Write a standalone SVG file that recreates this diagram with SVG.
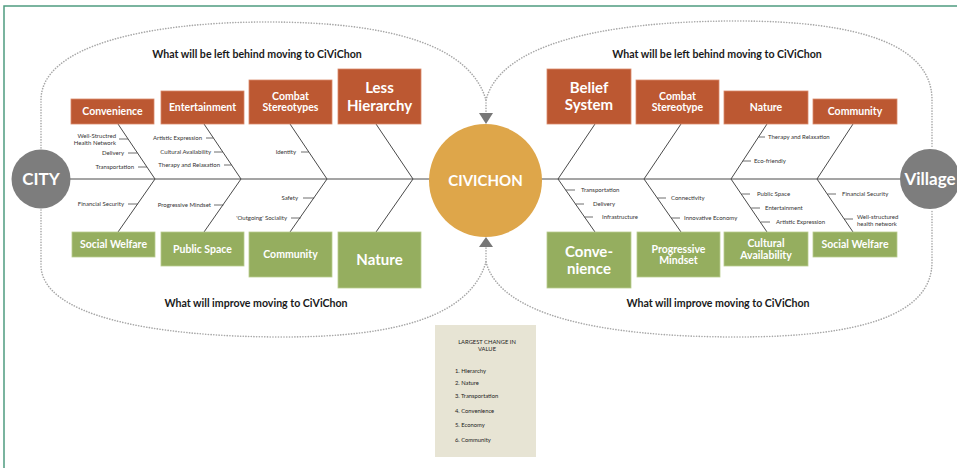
<svg xmlns="http://www.w3.org/2000/svg" width="957" height="468" viewBox="0 0 957 468">
<style>
.frame{fill:none;stroke:#4f9c80;stroke-width:1.5}
.dot{fill:none;stroke:#a8a8a8;stroke-width:1.6;stroke-dasharray:0.1 2.6;stroke-linecap:round}
.bone{fill:none;stroke:#4a4a4a;stroke-width:1}
.tick{fill:none;stroke:#4a4a4a;stroke-width:0.8}
.org{fill:#bc5832;stroke:#d98a6a;stroke-width:0.8}
.grn{fill:#95ae5f;stroke:#b9cc8e;stroke-width:0.8}
.bt{font-family:Lato,"Liberation Sans",sans-serif;font-weight:700;fill:#fff;text-anchor:middle}
.s{font-size:10.5px}
.l{font-size:15px}
.title{font-family:Lato,"Liberation Sans",sans-serif;font-weight:700;font-size:10.6px;fill:#1a1a1a;text-anchor:middle}
.sub{font-family:Lato,"Liberation Sans",sans-serif;font-size:6px;fill:#333}
.r{text-anchor:end}
.leg{font-family:Lato,"Liberation Sans",sans-serif;font-size:5.8px;fill:#222}
.circ{font-family:Lato,"Liberation Sans",sans-serif;font-weight:700;fill:#fff;text-anchor:middle}
</style>
<rect width="957" height="468" fill="#fff"/>
<path class="frame" d="M4,468 L4,6 L957,6"/>

<g id="connectors">
  <path class="dot" d="M41,148 L41,100 C41,45 150,22 267,22 C390,22 470,45 486,100 L486,112"/>
  <path class="dot" d="M486,100 C500,45 600,21 737,21 C860,21 932,45 932,100 L932,148"/>
  <path class="dot" d="M41,210 L41,265 C41,315 150,337 283,337 C400,337 470,315 486,262 L486,248"/>
  <path class="dot" d="M486,262 C500,315 600,337 737,337 C860,337 932,315 932,262 L932,210"/>
  <polygon points="479,113 493,113 486,124" fill="#777"/>
  <polygon points="486,237 479,247 493,247" fill="#777"/>
  <line class="bone" x1="70" y1="179" x2="430" y2="179"/>
  <line class="bone" x1="541" y1="179" x2="901" y2="179"/>
  <polyline class="bone" points="118,124 155,179 118,232"/>
  <polyline class="bone" points="204,124 241,179 204,232"/>
  <polyline class="bone" points="290,124 327,179 290,232"/>
  <polyline class="bone" points="376,124 413,179 376,232"/>
  <polyline class="bone" points="595,124 558,179 595,232"/>
  <polyline class="bone" points="681,124 644,179 681,232"/>
  <polyline class="bone" points="767,124 731,179 767,232"/>
  <polyline class="bone" points="853,124 817,179 853,232"/>
  <line class="tick" x1="119" y1="139" x2="128" y2="139"/>
  <line class="tick" x1="128" y1="153" x2="137.5" y2="153"/>
  <line class="tick" x1="138" y1="167" x2="147" y2="167"/>
  <line class="tick" x1="206" y1="138" x2="213.4" y2="138"/>
  <line class="tick" x1="214" y1="152" x2="222.8" y2="152"/>
  <line class="tick" x1="224" y1="165" x2="231.6" y2="165"/>
  <line class="tick" x1="301" y1="152" x2="308.8" y2="152"/>
  <line class="tick" x1="128" y1="204" x2="138" y2="204"/>
  <line class="tick" x1="214" y1="205" x2="223.5" y2="205"/>
  <line class="tick" x1="303" y1="198" x2="314.2" y2="198"/>
  <line class="tick" x1="291" y1="218" x2="300.8" y2="218"/>
  <line class="tick" x1="758.5" y1="137" x2="765" y2="137"/>
  <line class="tick" x1="742.8" y1="161" x2="751" y2="161"/>
  <line class="tick" x1="565.7" y1="190" x2="575" y2="190"/>
  <line class="tick" x1="575.5" y1="204" x2="584" y2="204"/>
  <line class="tick" x1="584.5" y1="217" x2="593" y2="217"/>
  <line class="tick" x1="657.3" y1="198" x2="666" y2="198"/>
  <line class="tick" x1="671.2" y1="218" x2="680" y2="218"/>
  <line class="tick" x1="741.5" y1="194" x2="750" y2="194"/>
  <line class="tick" x1="751.2" y1="208" x2="760" y2="208"/>
  <line class="tick" x1="761" y1="222" x2="770" y2="222"/>
  <line class="tick" x1="827.5" y1="194" x2="836" y2="194"/>
  <line class="tick" x1="844.2" y1="219" x2="853" y2="219"/>
</g>

<g id="titles">
  <text class="title" x="257" y="58">What will be left behind moving to CiViChon</text>
  <text class="title" x="717" y="58">What will be left behind moving to CiViChon</text>
  <text class="title" x="256" y="306.5">What will improve moving to CiViChon</text>
  <text class="title" x="718" y="306.5">What will improve moving to CiViChon</text>
</g>

<g id="city">
  <circle cx="41" cy="179" r="29.5" fill="#7d7d7d"/>
  <text class="circ" x="41" y="185" font-size="17">CITY</text>
</g>
<g id="village">
  <circle cx="930" cy="179" r="30" fill="#7d7d7d"/>
  <text class="circ" x="930" y="185" font-size="17">Village</text>
</g>
<g id="civichon">
  <circle cx="485.5" cy="180.5" r="56.5" fill="#dea64a"/>
  <text class="circ" x="485.5" y="186" font-size="15">CIVICHON</text>
</g>

<g id="l-convenience"><rect class="org" x="71" y="99" width="83" height="25"/><text class="bt s" x="112.5" y="115">Convenience</text></g>
<g id="l-entertainment"><rect class="org" x="161" y="91" width="83" height="33"/><text class="bt s" x="202.5" y="111">Entertainment</text></g>
<g id="l-combat"><rect class="org" x="249" y="80" width="83" height="44"/><text class="bt s" x="290.5" y="99.5">Combat</text><text class="bt s" x="290.5" y="111">Stereotypes</text></g>
<g id="l-hierarchy"><rect class="org" x="338" y="69" width="83" height="55"/><text class="bt l" x="379.5" y="93">Less</text><text class="bt l" x="379.5" y="110.5">Hierarchy</text></g>
<g id="l-welfare"><rect class="grn" x="72" y="232" width="83" height="25"/><text class="bt s" x="113.5" y="248">Social Welfare</text></g>
<g id="l-public"><rect class="grn" x="161" y="232" width="83" height="34"/><text class="bt s" x="202.5" y="252.5">Public Space</text></g>
<g id="l-community"><rect class="grn" x="249" y="232" width="83" height="45"/><text class="bt s" x="290.5" y="258">Community</text></g>
<g id="l-nature"><rect class="grn" x="338" y="232" width="83" height="56"/><text class="bt l" x="379.5" y="265">Nature</text></g>
<g id="r-belief"><rect class="org" x="547" y="69" width="84" height="55"/><text class="bt l" x="589" y="92.5">Belief</text><text class="bt l" x="589" y="110">System</text></g>
<g id="r-combat"><rect class="org" x="636" y="80" width="83" height="44"/><text class="bt s" x="677.5" y="99.5">Combat</text><text class="bt s" x="677.5" y="111">Stereotype</text></g>
<g id="r-nature"><rect class="org" x="724" y="91" width="84" height="33"/><text class="bt s" x="766" y="111">Nature</text></g>
<g id="r-community"><rect class="org" x="813" y="99" width="84" height="25"/><text class="bt s" x="855" y="115">Community</text></g>
<g id="r-convenience"><rect class="grn" x="547" y="232" width="84" height="56"/><text class="bt l" x="589" y="256.5">Conve-</text><text class="bt l" x="589" y="274">nience</text></g>
<g id="r-progressive"><rect class="grn" x="637" y="232" width="83" height="45"/><text class="bt s" x="678.5" y="252.5">Progressive</text><text class="bt s" x="678.5" y="264">Mindset</text></g>
<g id="r-cultural"><rect class="grn" x="724" y="232" width="84" height="34"/><text class="bt s" x="766" y="246.5">Cultural</text><text class="bt s" x="766" y="258.5">Availability</text></g>
<g id="r-welfare"><rect class="grn" x="813" y="232" width="84" height="25"/><text class="bt s" x="855" y="248">Social Welfare</text></g>

<g id="sub-labels">
  <text class="sub r" x="116" y="138">Well-Structred</text>
  <text class="sub r" x="116" y="145">Health Network</text>
  <text class="sub r" x="124" y="155">Delivery</text>
  <text class="sub r" x="134" y="169">Transportation</text>
  <text class="sub r" x="202" y="140">Artistic Expression</text>
  <text class="sub r" x="211" y="154">Cultural Availability</text>
  <text class="sub r" x="220" y="167">Therapy and Relaxation</text>
  <text class="sub r" x="296" y="154">Identity</text>
  <text class="sub r" x="124" y="206">Financial Security</text>
  <text class="sub r" x="211" y="207">Progressive Mindset</text>
  <text class="sub r" x="298" y="200">Safety</text>
  <text class="sub r" x="287" y="220">'Outgoing' Sociality</text>
  <text class="sub" x="768" y="139">Therapy and Relaxation</text>
  <text class="sub" x="754" y="163">Eco-friendly</text>
  <text class="sub" x="581" y="192">Transportation</text>
  <text class="sub" x="593" y="206">Delivery</text>
  <text class="sub" x="602" y="219">Infrastructure</text>
  <text class="sub" x="671" y="200">Connectivity</text>
  <text class="sub" x="684" y="220">Innovative Economy</text>
  <text class="sub" x="757" y="196">Public Space</text>
  <text class="sub" x="765" y="210">Entertainment</text>
  <text class="sub" x="776" y="224">Artistic Expression</text>
  <text class="sub" x="842" y="196">Financial Security</text>
  <text class="sub" x="857" y="219">Well-structured</text>
  <text class="sub" x="857" y="225.5">health network</text>
</g>

<g id="legend">
  <rect x="435" y="325" width="101" height="132" fill="#e7e4d4"/>
  <text class="leg" x="487" y="344" text-anchor="middle">LARGEST CHANGE IN</text>
  <text class="leg" x="487" y="351" text-anchor="middle">VALUE</text>
  <text class="leg" x="455" y="373">1. Hierarchy</text>
  <text class="leg" x="455" y="385">2. Nature</text>
  <text class="leg" x="455" y="398">3. Transportation</text>
  <text class="leg" x="455" y="413">4. Convenience</text>
  <text class="leg" x="455" y="427">5. Economy</text>
  <text class="leg" x="455" y="442">6. Community</text>
</g>
</svg>
